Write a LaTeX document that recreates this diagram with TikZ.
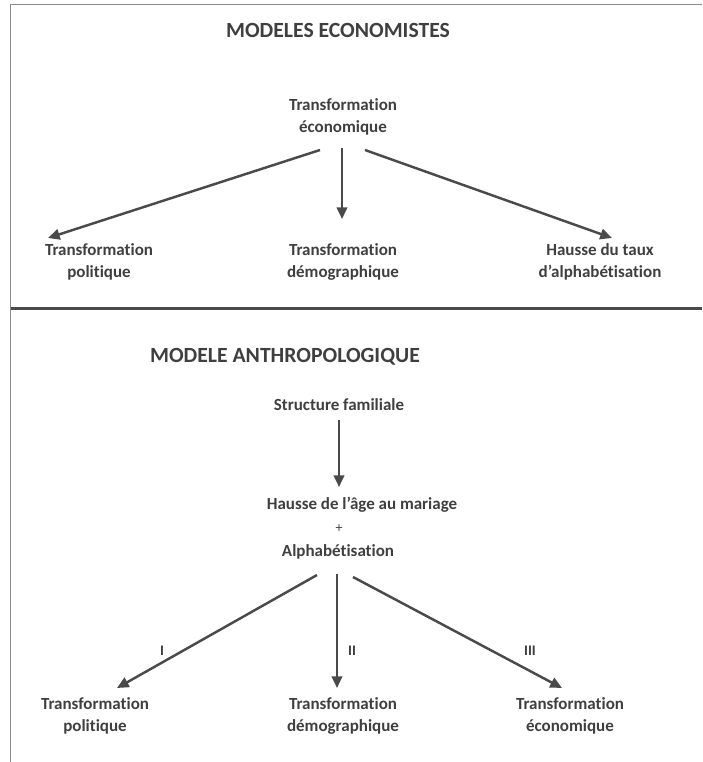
\documentclass[tikz,border=0pt]{standalone}
\usepackage{fontspec}
\setmainfont{Carlito}[Ligatures=NoCommon]
\usetikzlibrary{arrows.meta,calc}

\definecolor{txtgris}{HTML}{3F3F3F}
\definecolor{flgris}{HTML}{4A4A4A}
\definecolor{cadregris}{HTML}{8C8C8C}

\tikzset{
  etiq/.style={font=\bfseries\fontsize{14.5}{18.8}\selectfont, text=txtgris, align=center, inner sep=0pt},
  titre/.style={font=\bfseries\fontsize{18.5}{22}\selectfont, text=txtgris, inner sep=0pt, anchor=base},
  chiffre/.style={font=\bfseries\fontsize{12.5}{15}\selectfont, text=txtgris, inner sep=0pt},
  fleche/.style={draw=flgris, line width=2.1pt, -{Triangle[length=10pt,width=9pt]}},
}

\begin{document}
\begin{tikzpicture}[line cap=butt,line join=round,x=0.03cm,y=-0.03cm]
				\useasboundingbox (0,0) rectangle (702,762);
				% cadre
				\draw [color=cadregris,line width=1.2pt] (10.5,762) -- (10.5,4.5) -- (702,4.5);
				\draw [color=flgris,line width=2.6pt] (10.5,308.5) -- (702,308.5);

				%% Modeles economistes
				\node[titre] (titreA) at (338,37.5) {MODELES ECONOMISTES};
				\node[etiq,anchor=north] (ecoA) at (343,98.5) {Transformation\\ économique};
				\node[etiq,anchor=north] (polA) at (99,243.5) {Transformation\\ politique};
				\node[etiq,anchor=north] (demA) at (343,243.5) {Transformation\\ démographique};
				\node[etiq,anchor=north] (alphA) at (600,243.5) {Hausse du taux\\ d’alphabétisation};
				\draw [fleche] ($(ecoA.north)+(-23,51.5)$) -- ($(polA.north)+(-51,-5.5)$);
				\draw [fleche] ($(ecoA.north)+(-1,49.5)$) -- ($(demA.north)+(-1,-24.5)$);
				\draw [fleche] ($(ecoA.north)+(22,51.5)$) -- ($(alphA.north)+(12,-5.5)$);

				%% Modele anthropologique
				\node[titre] (titreB) at (285,362.5) {MODELE ANTHROPOLOGIQUE};
				\node[etiq,anchor=base] (fam) at (339,410.5) {Structure familiale};
				\node[etiq,anchor=base] (age) at (362,509) {Hausse de l’âge au mariage};
				\node[chiffre,font=\fontsize{12}{15}\selectfont] (plus) at (339,529) {+};
				\node[etiq,anchor=base] (alphB) at (338,556) {Alphabétisation};
				\draw [fleche] ($(fam.base)+(0,9.5)$) -- ($(age.base)+(-23,-22)$);

				\node[etiq,anchor=north] (polB) at (95,697) {Transformation\\ politique};
				\node[etiq,anchor=north] (demB) at (343,697) {Transformation\\ démographique};
				\node[etiq,anchor=north] (ecoB) at (570,697) {Transformation\\ économique};
				\draw [fleche] ($(alphB.base)+(-21,19)$) -- ($(polB.north)+(22,-9)$);
				\draw [fleche] ($(alphB.base)+(-1,18)$) -- ($(demB.north)+(-6,-9)$);
				\draw [fleche] ($(alphB.base)+(15,21)$) -- ($(ecoB.north)+(-8,-9)$);
				% chiffres romains
				\node[chiffre] (un) at (162,651) {I};
				\node[chiffre] (deux) at (352,651) {II};
				\node[chiffre] (trois) at (530,651) {III};
\end{tikzpicture}
\end{document}
